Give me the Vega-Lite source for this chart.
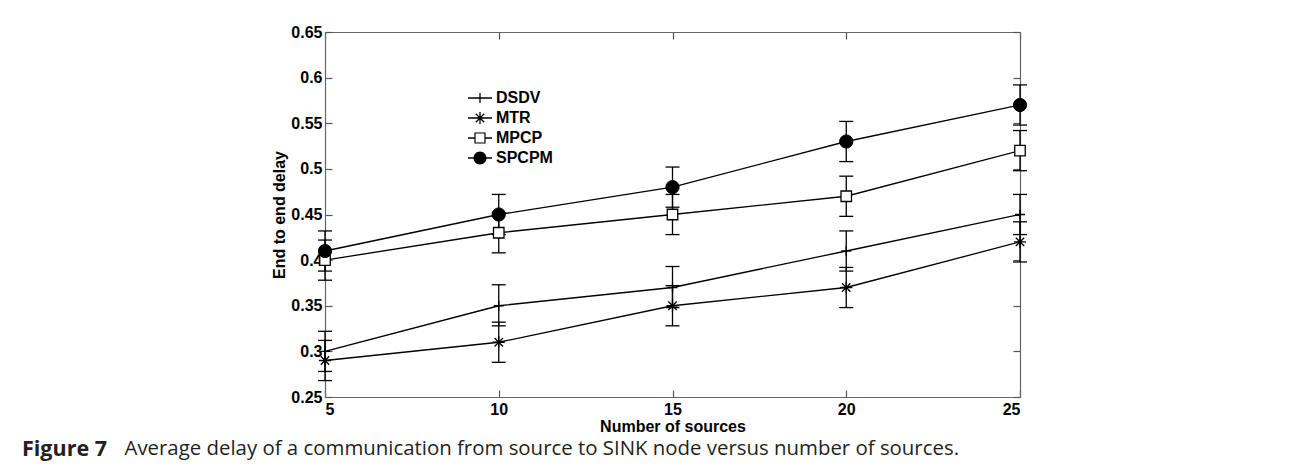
{
  "$schema": "https://vega.github.io/schema/vega-lite/v6.json",
  "autosize": "none",
  "width": 695,
  "height": 365,
  "padding": {"left": 325, "top": 32, "right": 270, "bottom": 79},
  "background": "white",
  "config": {
    "font": "Liberation Sans",
    "view": {"stroke": null},
    "axis": {
      "labelFont": "Liberation Sans", "labelFontWeight": "bold", "labelFontSize": 16, "labelColor": "#000",
      "titleFont": "Liberation Sans", "titleFontWeight": "bold", "titleFontSize": 16, "titleColor": "#000",
      "domainColor": "#666", "tickColor": "#555", "grid": false, "tickSize": -7, "domainWidth": 1.2, "tickWidth": 1.2
    },
    "legend": {
      "orient": "none", "legendX": 145, "legendY": 56, "padding": 0, "rowPadding": 2,
      "labelFont": "Liberation Sans", "labelFontSize": 16, "labelFontWeight": "bold", "labelColor": "#000",
      "labelOffset": 6, "symbolSize": 400, "symbolStrokeWidth": 0,
      "symbolFillColor": "black"
    }
  },
  "title": {
    "text": "Figure 7",
    "orient": "bottom", "anchor": "start", "frame": "group",
    "font": "Open Sans", "fontSize": 21.5, "fontWeight": "bold", "color": "#231f20",
    "dx": -303, "offset": -19
  },
  "data": {"values": [
    {"n": 5, "series": "DSDV", "delay": 0.30, "lo": 0.278, "hi": 0.322},
    {"n": 10, "series": "DSDV", "delay": 0.35, "lo": 0.328, "hi": 0.373},
    {"n": 15, "series": "DSDV", "delay": 0.37, "lo": 0.348, "hi": 0.393},
    {"n": 20, "series": "DSDV", "delay": 0.41, "lo": 0.388, "hi": 0.432},
    {"n": 25, "series": "DSDV", "delay": 0.45, "lo": 0.428, "hi": 0.472},
    {"n": 5, "series": "MTR", "delay": 0.29, "lo": 0.268, "hi": 0.312},
    {"n": 10, "series": "MTR", "delay": 0.31, "lo": 0.288, "hi": 0.332},
    {"n": 15, "series": "MTR", "delay": 0.35, "lo": 0.328, "hi": 0.372},
    {"n": 20, "series": "MTR", "delay": 0.37, "lo": 0.348, "hi": 0.392},
    {"n": 25, "series": "MTR", "delay": 0.42, "lo": 0.398, "hi": 0.442},
    {"n": 5, "series": "MPCP", "delay": 0.40, "lo": 0.378, "hi": 0.422},
    {"n": 10, "series": "MPCP", "delay": 0.43, "lo": 0.408, "hi": 0.452},
    {"n": 15, "series": "MPCP", "delay": 0.45, "lo": 0.428, "hi": 0.472},
    {"n": 20, "series": "MPCP", "delay": 0.47, "lo": 0.448, "hi": 0.492},
    {"n": 25, "series": "MPCP", "delay": 0.52, "lo": 0.498, "hi": 0.542},
    {"n": 5, "series": "SPCPM", "delay": 0.41, "lo": 0.388, "hi": 0.432},
    {"n": 10, "series": "SPCPM", "delay": 0.45, "lo": 0.428, "hi": 0.472},
    {"n": 15, "series": "SPCPM", "delay": 0.48, "lo": 0.458, "hi": 0.502},
    {"n": 20, "series": "SPCPM", "delay": 0.53, "lo": 0.508, "hi": 0.552},
    {"n": 25, "series": "SPCPM", "delay": 0.57, "lo": 0.548, "hi": 0.592}
  ]},
  "layer": [
    {
      "mark": {"type": "line", "color": "black", "strokeWidth": 1.3},
      "encoding": {
        "x": {"field": "n", "type": "quantitative", "scale": {"domain": [5, 25], "nice": false, "zero": false},
              "axis": {"orient": "bottom", "values": [5, 10, 15, 20, 25], "title": "Number of sources", "labelPadding": 11, "titlePadding": 1}},
        "y": {"field": "delay", "type": "quantitative", "scale": {"domain": [0.25, 0.65], "nice": false, "zero": false},
              "axis": {"orient": "left", "values": [0.25, 0.3, 0.35, 0.4, 0.45, 0.5, 0.55, 0.6, 0.65], "format": ".2~f", "title": "End to end delay", "labelPadding": 10, "titlePadding": 3}},
        "detail": {"field": "series", "type": "nominal"}
      }
    },
    {
      "mark": {"type": "rule", "color": "black", "strokeWidth": 1.3},
      "encoding": {
        "x": {"field": "n", "type": "quantitative", "axis": null},
        "y": {"field": "lo", "type": "quantitative", "axis": null},
        "y2": {"field": "hi"}
      }
    },
    {
      "mark": {"type": "tick", "orient": "horizontal", "size": 14, "thickness": 1.3, "color": "black", "opacity": 1},
      "encoding": {
        "x": {"field": "n", "type": "quantitative", "axis": null},
        "y": {"field": "lo", "type": "quantitative", "axis": null}
      }
    },
    {
      "mark": {"type": "tick", "orient": "horizontal", "size": 14, "thickness": 1.3, "color": "black", "opacity": 1},
      "encoding": {
        "x": {"field": "n", "type": "quantitative", "axis": null},
        "y": {"field": "hi", "type": "quantitative", "axis": null}
      }
    },
    {
      "transform": [{"filter": "datum.series === 'DSDV'"}],
      "mark": {"type": "point", "shape": "M-1,0L1,0M0,-1L0,1", "size": 100, "filled": false, "stroke": "black", "strokeWidth": 1.3, "opacity": 1},
      "encoding": {
        "x": {"field": "n", "type": "quantitative", "axis": null},
        "y": {"field": "delay", "type": "quantitative", "axis": null}
      }
    },
    {
      "transform": [{"filter": "datum.series === 'MTR'"}],
      "mark": {"type": "point", "shape": "M-1,0L1,0M0,-1L0,1M-0.7,-0.7L0.7,0.7M-0.7,0.7L0.7,-0.7", "size": 144, "filled": false, "stroke": "black", "strokeWidth": 1.3, "opacity": 1},
      "encoding": {
        "x": {"field": "n", "type": "quantitative", "axis": null},
        "y": {"field": "delay", "type": "quantitative", "axis": null}
      }
    },
    {
      "transform": [{"filter": "datum.series === 'MPCP'"}],
      "mark": {"type": "point", "shape": "M-1,-1L1,-1L1,1L-1,1Z", "size": 110, "filled": true, "fill": "white", "stroke": "black", "strokeWidth": 1.3, "opacity": 1},
      "encoding": {
        "x": {"field": "n", "type": "quantitative", "axis": null},
        "y": {"field": "delay", "type": "quantitative", "axis": null}
      }
    },
    {
      "transform": [{"filter": "datum.series === 'SPCPM'"}],
      "mark": {"type": "point", "shape": "circle", "size": 175, "filled": true, "fill": "black", "stroke": "black", "strokeWidth": 1, "opacity": 1},
      "encoding": {
        "x": {"field": "n", "type": "quantitative", "axis": null},
        "y": {"field": "delay", "type": "quantitative", "axis": null}
      }
    },
    {
      "transform": [{"filter": "false"}],
      "mark": {"type": "point", "size": 400, "filled": true, "fill": "black", "strokeWidth": 0, "opacity": 1},
      "encoding": {
        "x": {"field": "n", "type": "quantitative",
              "axis": {"orient": "top", "values": [5, 10, 15, 20, 25], "labels": false,
                       "title": "Average delay of a communication from source to SINK node versus number of sources.",
                       "titleFont": "Open Sans", "titleFontWeight": "normal", "titleFontSize": 20.4, "titleColor": "#231f20",
                       "titleX": -201, "titleY": 416, "titleAngle": 0, "titleAlign": "left", "titleBaseline": "middle", "titleAnchor": "start"}},
        "y": {"field": "delay", "type": "quantitative",
              "axis": {"orient": "right", "values": [0.25, 0.3, 0.35, 0.4, 0.45, 0.5, 0.55, 0.6, 0.65], "labels": false, "title": null}},
        "shape": {"field": "series", "type": "nominal", "title": null,
                  "scale": {"domain": ["DSDV", "MTR", "MPCP", "SPCPM"],
                            "range": ["M-1.2,-0.065L1.2,-0.065L1.2,0.065L-1.2,0.065ZM-0.065,-0.5L0.065,-0.5L0.065,0.5L-0.065,0.5Z",
                                      "M-1.2,-0.065L1.2,-0.065L1.2,0.065L-1.2,0.065ZM-0.065,-0.6L0.065,-0.6L0.065,0.6L-0.065,0.6ZM-0.374,-0.466L0.466,0.374L0.374,0.466L-0.466,-0.374ZM-0.374,0.466L-0.466,0.374L0.374,-0.466L0.466,-0.374Z",
                                      "M-1.2,-0.065L-0.56,-0.065L-0.56,0.065L-1.2,0.065ZM0.56,-0.065L1.2,-0.065L1.2,0.065L0.56,0.065ZM-0.56,-0.56L0.56,-0.56L0.56,0.56L-0.56,0.56ZM-0.44,-0.44L-0.44,0.44L0.44,0.44L0.44,-0.44Z",
                                      "M-1.2,-0.065L1.2,-0.065L1.2,0.065L-1.2,0.065ZM-0.65,0A0.65,0.65,0,1,1,0.65,0A0.65,0.65,0,1,1,-0.65,0Z"]}}
      }
    }
  ],
  "resolve": {"axis": {"x": "independent", "y": "independent"}}
}
